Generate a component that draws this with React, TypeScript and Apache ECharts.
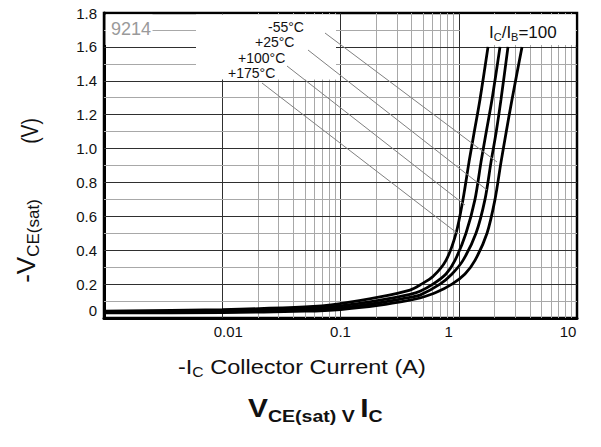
import { useEffect, useRef } from 'react';
import * as echarts from 'echarts';

const FONT = '"Liberation Sans", Arial, Helvetica, sans-serif';

// X axis: collector current (A), log scale
const xDecades = [0.001, 0.01, 0.1, 1, 10];
const xTickLabels = ['', '0.01', '0.1', '1', '10'];
const minorMultipliers = [2, 3, 4, 5, 6, 7, 8, 9];
// Y axis: -VCE(sat) in volts
const yTickLabels = ['0', '0.2', '0.4', '0.6', '0.8', '1.0', '1.2', '1.4', '1.6', '1.8'];
const yMinorStep = 0.1;

const tempLabels = ['-55°C', '+25°C', '+100°C', '+175°C'];

// curves: [Ic (A), Vce(sat) (V)]
const curveM55: [number, number][] = [
  [0.001, 0.03], [0.01, 0.032], [0.05, 0.04], [0.1, 0.05], [0.216, 0.076], [0.387, 0.105],
  [0.47, 0.118], [0.64, 0.15], [0.877, 0.2], [1.129, 0.26], [1.372, 0.34], [1.734, 0.5],
  [2.026, 0.7], [2.277, 0.92], [2.509, 1.09], [2.821, 1.29], [3.427, 1.6],
];
const curveP25: [number, number][] = [
  [0.001, 0.033], [0.01, 0.037], [0.05, 0.047], [0.1, 0.06], [0.216, 0.09], [0.387, 0.122],
  [0.47, 0.135], [0.694, 0.2], [0.877, 0.26], [1.086, 0.34], [1.399, 0.5], [1.667, 0.7],
  [1.874, 0.92], [2.065, 1.09], [2.277, 1.29], [2.609, 1.6],
];
const curveP100: [number, number][] = [
  [0.001, 0.036], [0.01, 0.043], [0.05, 0.055], [0.1, 0.072], [0.216, 0.105], [0.387, 0.14],
  [0.47, 0.158], [0.605, 0.2], [0.78, 0.26], [0.929, 0.34], [1.151, 0.5], [1.372, 0.7],
  [1.542, 0.92], [1.7, 1.09], [1.911, 1.29], [2.233, 1.6],
];
const curveP175: [number, number][] = [
  [0.001, 0.04], [0.01, 0.05], [0.05, 0.065], [0.1, 0.085], [0.216, 0.124], [0.387, 0.165],
  [0.47, 0.195], [0.605, 0.245], [0.78, 0.34], [0.948, 0.5], [1.086, 0.7], [1.221, 0.92],
  [1.346, 1.09], [1.512, 1.29], [1.768, 1.6],
];

const curves = [curveM55, curveP25, curveP100, curveP175];

export default function App() {
  const ref = useRef<HTMLDivElement>(null);

  useEffect(() => {
    if (!ref.current) return;
    const chart = echarts.init(ref.current, null, { renderer: 'svg' });

    const DARK = '#2f2f2f';
    const LIGHT = '#a8a8a8';

    const gridLines: any[] = [];
    xDecades.slice(0, -1).forEach((d, i) => {
      if (i > 0) gridLines.push({ xAxis: d, lineStyle: { color: DARK } });
      minorMultipliers.forEach((m) =>
        gridLines.push({ xAxis: Number((d * m).toPrecision(3)), lineStyle: { color: LIGHT } })
      );
    });
    const yCount = Math.round(1.8 / yMinorStep);
    for (let k = 1; k < yCount; k++) {
      const v = Number((k * yMinorStep).toFixed(1));
      gridLines.push({ yAxis: v, lineStyle: { color: k % 2 === 0 ? DARK : LIGHT } });
    }

    const curveSeries = curves.map((data, i) => ({
      name: tempLabels[i],
      type: 'line',
      data,
      symbol: 'none',
      smooth: 0.3,
      z: 5,
      lineStyle: { color: '#000', width: 2.8 },
    }));

    const gridSeries = {
      type: 'line',
      data: [[0.001, 0]],
      symbol: 'none',
      silent: true,
      z: 1,
      lineStyle: { opacity: 0 },
      markLine: {
        silent: true,
        symbol: ['none', 'none'],
        label: { show: false },
        lineStyle: { color: LIGHT, width: 1, type: 'solid' },
        data: gridLines,
      },
    };

    const leader = (x1: number, y1: number, x2: number, y2: number) => ({
      type: 'line',
      z: 20,
      silent: true,
      shape: { x1, y1, x2, y2 },
      style: { stroke: '#808080', lineWidth: 1 },
    });

    const label = (text: string, x: number, y: number) => ({
      type: 'text',
      z: 21,
      x,
      y,
      style: { text, font: `14px ${FONT}`, fill: '#111', verticalAlign: 'middle', align: 'left' },
    });

    const whiteRect = (x: number, y: number, width: number, height: number) => ({
      type: 'rect',
      z: 15,
      silent: true,
      shape: { x, y, width, height },
      style: { fill: '#fff' },
    });

    chart.setOption({
      animation: false,
      grid: {
        left: 104,
        right: 24,
        top: 13,
        bottom: 129,
        show: true,
        borderColor: '#000',
        borderWidth: 2.5,
      },
      xAxis: {
        type: 'log',
        logBase: 10,
        min: 0.001,
        max: 10,
        axisTick: { show: false },
        axisLine: { show: true, lineStyle: { color: '#000', width: 3 } },
        splitLine: { show: false },
        axisLabel: {
          margin: 6,
          fontFamily: FONT,
          fontSize: 15,
          color: '#111',
          formatter: (v: number) => {
            const k = Math.round(Math.log10(v)) + 3;
            const t = xTickLabels[k] ?? '';
            if (t === '0.01') return `{r|${t}}`;
            if (t === '1') return `{l|${t}}`;
            if (t === '10') return `{m|${t}}`;
            return t;
          },
          rich: {
            r: { fontFamily: FONT, fontSize: 15, color: '#111', padding: [0, 0, 0, 12] },
            l: { fontFamily: FONT, fontSize: 15, color: '#111', padding: [0, 20, 0, 0] },
            m: { fontFamily: FONT, fontSize: 15, color: '#111', padding: [0, 18, 0, 0] },
          },
        },
      },
      yAxis: {
        type: 'value',
        min: 0,
        max: 1.8,
        interval: 0.2,
        axisTick: { show: false },
        axisLine: { show: true, lineStyle: { color: '#000', width: 3 } },
        splitLine: { show: false },
        axisLabel: {
          margin: 7,
          fontFamily: FONT,
          fontSize: 15,
          color: '#111',
          formatter: (v: number) => {
            const idx = Math.round(v / 0.2);
            const t = yTickLabels[idx] ?? '';
            return idx === 0 ? `{z|${t}}` : t;
          },
          rich: {
            z: { fontFamily: FONT, fontSize: 15, color: '#111', padding: [0, 0, 16, 0] },
          },
        },
      },
      series: [gridSeries, ...curveSeries],
      graphic: [
        whiteRect(196, 14.5, 140, 65),
        whiteRect(460, 14.5, 115.5, 30.5),
        whiteRect(105.5, 14.5, 47, 30.5),
        {
          type: 'text',
          z: 21,
          x: 111,
          y: 29,
          style: { text: '9214', font: `18px ${FONT}`, fill: '#9a9a9a', verticalAlign: 'middle' },
        },
        label(tempLabels[0], 268, 27),
        label(tempLabels[1], 255, 42),
        label(tempLabels[2], 238, 58),
        label(tempLabels[3], 228, 73),
        leader(325, 33, 497, 162),
        leader(308, 50, 487, 190),
        leader(287, 66, 465, 205),
        leader(262, 83, 457, 233),
        {
          type: 'text',
          z: 21,
          x: 489,
          y: 33,
          style: {
            text: '{a|I}{s|C}{a|/I}{s|B}{a|=100}',
            align: 'left',
            verticalAlign: 'middle',
            rich: {
              a: { fontFamily: FONT, fontSize: 17, fill: '#111', verticalAlign: 'bottom', padding: [0, 0, 2, 0] },
              s: { fontFamily: FONT, fontSize: 11, fill: '#111', verticalAlign: 'bottom' },
            },
          },
        },
        {
          type: 'text',
          z: 21,
          x: 30,
          y: 131,
          rotation: Math.PI / 2,
          scaleX: 0.8,
          style: { text: '(V)', font: `24px ${FONT}`, fill: '#111', align: 'center', verticalAlign: 'middle' },
        },
        {
          type: 'text',
          z: 21,
          x: 27,
          y: 241,
          rotation: Math.PI / 2,
          style: {
            text: '{a|-V}{s|CE(sat)}',
            align: 'center',
            verticalAlign: 'middle',
            rich: {
              a: { fontFamily: FONT, fontSize: 26, fill: '#111', verticalAlign: 'bottom', padding: [0, 0, 3, 0] },
              s: { fontFamily: FONT, fontSize: 17, fill: '#111', verticalAlign: 'bottom' },
            },
          },
        },
        {
          type: 'text',
          z: 21,
          x: 178,
          y: 368,
          scaleX: 1.12,
          style: {
            text: '{a|-I}{s|C}{a| Collector Current (A)}',
            align: 'left',
            verticalAlign: 'middle',
            rich: {
              a: { fontFamily: FONT, fontSize: 21, fill: '#111', verticalAlign: 'bottom', padding: [0, 0, 2, 0] },
              s: { fontFamily: FONT, fontSize: 14, fill: '#111', verticalAlign: 'bottom' },
            },
          },
        },
        {
          type: 'text',
          z: 21,
          x: 248,
          y: 410,
          scaleX: 1.15,
          style: {
            text: '{a|V}{s|CE(sat) V }{a|I}{s|C}',
            align: 'left',
            verticalAlign: 'middle',
            rich: {
              a: { fontFamily: FONT, fontSize: 26, fontWeight: 'bold', fill: '#111', verticalAlign: 'bottom', padding: [0, 0, 3, 0] },
              s: { fontFamily: FONT, fontSize: 17, fontWeight: 'bold', fill: '#111', verticalAlign: 'bottom' },
            },
          },
        },
      ],
    });

    return () => chart.dispose();
  }, []);

  return (
    <div
      ref={ref}
      style={{ position: 'fixed', left: 0, top: 0, width: 601, height: 447, background: '#fff' }}
    />
  );
}
